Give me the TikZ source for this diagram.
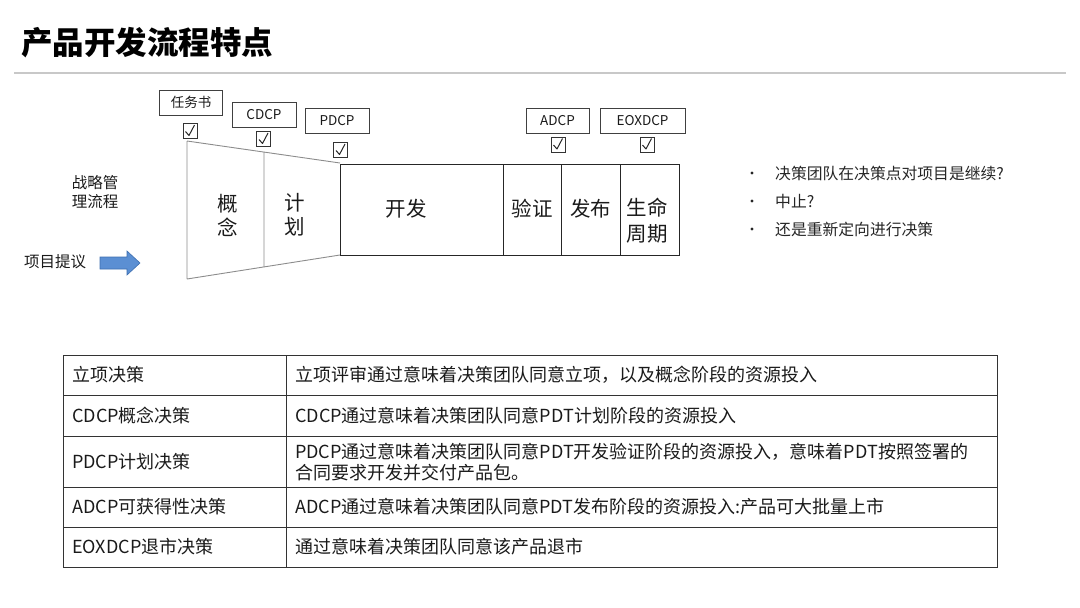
\documentclass[tikz,border=0pt]{standalone}
\usepackage{fontspec}
\setmainfont{Noto Sans CJK SC}
\definecolor{txt}{HTML}{1A1A1A}
\definecolor{funnel}{HTML}{8C8C8C}
\definecolor{arrowfill}{HTML}{5B8FD3}
\definecolor{arrowdraw}{HTML}{3E6FB0}
\definecolor{rule}{HTML}{C8C8C8}
\newcommand{\fs}[2]{\fontsize{#1}{#2}\selectfont}
\begin{document}
\begin{tikzpicture}[x=1pt,y=-1pt,
  every node/.style={text=txt, inner sep=0pt},
  dcpbox/.style={draw=black!75, line width=0.8pt, minimum height=25pt, font=\fs{13.5}{16}},
  chk/.style={draw=black!80, line width=0.9pt, minimum width=14pt, minimum height=15pt},
  stagelbl/.style={font=\fs{20.5}{24}, align=center},
  cell/.style={anchor=west, font=\fs{18}{21}, align=left},
  bul/.style={anchor=west, font=\fs{15.8}{18}, text=black!85}]
\useasboundingbox (0,0) rectangle (1080,608);
% title
\node[anchor=west, font=\fs{31.5}{34}\bfseries, text=black] (title) at (21,43) {产品开发流程特点};
\draw[rule, line width=1.2pt] (14,73) -- (1066,73);

% decision boxes
\node[dcpbox, minimum width=63pt] (rws) at (191,102.5) {任务书};
\node[dcpbox, minimum width=64pt] (cdcp) at (264,114.5) {CDCP};
\node[dcpbox, minimum width=64pt] (pdcp) at (337,120.5) {PDCP};
\node[dcpbox, minimum width=63pt] (adcp) at (557.5,120.5) {ADCP};
\node[dcpbox, minimum width=85pt] (eox) at (642.5,120.5) {EOXDCP};

% checkboxes
\newcommand{\chkmark}[1]{\draw[black!85, line width=1pt, line join=round]
  ([shift={(-4.5,0.5)}]#1.center) -- ([shift={(-1,4.5)}]#1.center) -- ([shift={(4.5,-6)}]#1.center);}
\node[chk] (c1) at (190,131) {}; \chkmark{c1}
\node[chk] (c2) at (263.5,139) {}; \chkmark{c2}
\node[chk] (c3) at (340.5,150) {}; \chkmark{c3}
\node[chk] (c4) at (558,144.5) {}; \chkmark{c4}
\node[chk] (c5) at (647,144.5) {}; \chkmark{c5}

% funnel
\coordinate (f1t) at (187,141); \coordinate (f1b) at (187,279);
\coordinate (f2t) at (264,152); \coordinate (f2b) at (264,267);
\coordinate (f3t) at (340,163); \coordinate (f3b) at (340,255);
\draw[funnel, line width=0.9pt] (f1t) -- (f3t) (f1b) -- (f3b) (f1t) -- (f1b) (f2t) -- (f2b);

% stage rectangle
\draw[black!85, line width=1pt] (340,164) rectangle (679,255);
\draw[black!85, line width=1pt] (503,164) -- (503,255) (561,164) -- (561,255) (620,164) -- (620,255);

\node[stagelbl] (gn) at (228,215) {概\\念};
\node[stagelbl] (jh) at (295,215) {计\\划};
\node[stagelbl] (kf) at (406,209) {开发};
\node[stagelbl] (yz) at (532,209) {验证};
\node[stagelbl] (fb) at (590.5,209) {发布};
\node[stagelbl, font=\fs{20.5}{26}] (smzq) at (647,221) {生命\\周期};

% left labels
\node[font=\fs{15.5}{19}, align=center] (zl) at (95,192.5) {战略管\\理流程};
\node[anchor=west, font=\fs{15.5}{18}] (xmty) at (24,262) {项目提议};
\draw[fill=arrowfill, draw=arrowdraw, line width=0.6pt] (100,257) -- (127,257) -- (127,251) -- (140,263) -- (127,275) -- (127,269) -- (100,269) -- cycle;

% bullets
\foreach \yy/\tt [count=\i] in {173/决策团队在决策点对项目是继续?, 201/中止?, 229/还是重新定向进行决策}{
  \node[bul] (b\i) at (775,\yy) {\tt};
  \fill[black!85] (752,\yy) circle (1.6pt);
}

% table
\draw[black!80, line width=1pt] (63,355) rectangle (997,567);
\foreach \yy in {395,436,487,527} \draw[black!80, line width=1pt] (63,\yy) -- (997,\yy);
\draw[black!80, line width=1pt] (286,355) -- (286,567);

\node[cell] (l1) at (72,375) {立项决策};
\node[cell] (l2) at (72,415.5) {CDCP概念决策};
\node[cell] (l3) at (72,461.5) {PDCP计划决策};
\node[cell] (l4) at (72,507) {ADCP可获得性决策};
\node[cell] (l5) at (72,547) {EOXDCP退市决策};

\node[cell] (r1) at (295,375) {立项评审通过意味着决策团队同意立项，以及概念阶段的资源投入};
\node[cell] (r2) at (295,415.5) {CDCP通过意味着决策团队同意PDT计划阶段的资源投入};
\node[cell] (r3) at (295,462) {PDCP通过意味着决策团队同意PDT开发验证阶段的资源投入，意味着PDT按照签署的\\合同要求开发并交付产品包。};
\node[cell] (r4) at (295,507) {ADCP通过意味着决策团队同意PDT发布阶段的资源投入:产品可大批量上市};
\node[cell] (r5) at (295,547) {通过意味着决策团队同意该产品退市};
\end{tikzpicture}
\end{document}
